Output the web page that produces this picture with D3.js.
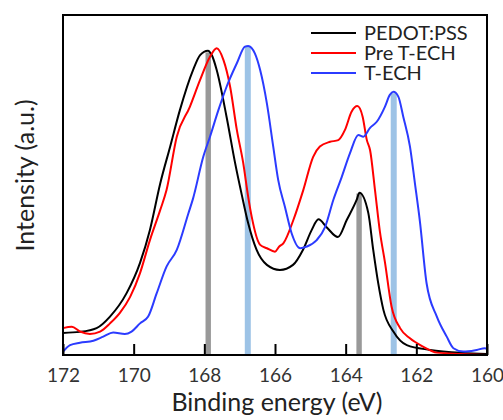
<!DOCTYPE html>
<html>
<head>
<meta charset="utf-8">
<script src="https://cdn.jsdelivr.net/npm/d3@7"></script>
<style>
  body { margin: 0; background: #fff; }
  svg { font-family: Lato, sans-serif; }
</style>
</head>
<body>
<svg id="chart"></svg>
<script>
var width = 503,
    height = 420,
    margin = {top: 15, right: 16, bottom: 65, left: 63};

// binding energy (eV) and intensity (a.u.)
var pedotE = [172.00, 171.52, 171.05, 170.67, 170.20, 169.82, 169.54, 169.25, 168.97, 168.69, 168.32, 168.12, 167.90, 167.78, 167.65, 167.37, 167.13, 166.94, 166.76, 166.52, 166.23, 165.86, 165.49, 165.21, 164.96, 164.77, 164.54, 164.22, 163.97, 163.69, 163.61, 163.36, 163.22, 163.08, 162.93, 162.65, 162.27, 161.61, 160.68, 160.00];
var pedotI = [6.5, 6.8, 7.9, 11.3, 18.2, 27.1, 36.8, 50.4, 61.2, 72.1, 83.8, 88.2, 89.5, 88.0, 83.8, 70.0, 56.5, 47.1, 38.8, 30.9, 26.5, 25.0, 26.5, 30.9, 36.8, 39.9, 37.6, 34.7, 39.7, 45.6, 47.7, 41.8, 30.9, 21.2, 13.2, 6.9, 2.9, 1.5, 0.6, 0.3];

var preE = [172.00, 171.75, 171.52, 171.24, 170.95, 170.67, 170.39, 170.10, 169.82, 169.54, 169.25, 169.07, 168.78, 168.41, 168.12, 167.84, 167.65, 167.46, 167.27, 167.08, 166.90, 166.76, 166.66, 166.42, 166.23, 166.00, 165.88, 165.76, 165.48, 165.20, 164.92, 164.73, 164.44, 164.21, 164.02, 163.83, 163.67, 163.52, 163.40, 163.31, 163.17, 163.03, 162.89, 162.70, 162.46, 162.18, 161.80, 161.42, 160.76, 160.00];
var preI = [7.9, 8.3, 6.9, 6.2, 6.9, 9.3, 12.4, 17.1, 24.1, 33.8, 42.6, 48.5, 64.2, 73.0, 80.9, 87.7, 90.2, 86.8, 78.9, 66.2, 56.5, 46.6, 40.7, 32.4, 31.4, 30.4, 31.9, 32.9, 39.7, 48.5, 58.3, 61.3, 62.7, 63.2, 66.2, 71.6, 73.2, 70.1, 63.2, 60.3, 48.5, 36.2, 27.4, 14.2, 7.9, 4.9, 2.4, 0.7, 0.3, 0.0];

var techE = [172.00, 171.80, 171.52, 171.14, 170.86, 170.58, 170.25, 170.06, 169.82, 169.59, 169.35, 169.07, 168.78, 168.45, 168.32, 168.03, 167.84, 167.60, 167.37, 167.08, 166.85, 166.76, 166.57, 166.42, 166.23, 166.05, 165.91, 165.72, 165.53, 165.29, 165.10, 164.82, 164.58, 164.35, 164.11, 163.88, 163.64, 163.50, 163.31, 163.12, 162.89, 162.75, 162.65, 162.51, 162.37, 162.18, 162.04, 161.90, 161.71, 161.42, 161.14, 160.95, 160.67, 160.29, 160.06, 160.00];
var techI = [1.0, 2.9, 3.6, 4.2, 5.4, 6.6, 6.2, 6.9, 9.3, 11.3, 18.1, 26.0, 30.9, 41.7, 46.0, 58.3, 64.2, 72.1, 78.9, 85.8, 90.7, 90.9, 88.7, 83.8, 74.0, 61.3, 51.5, 43.6, 35.8, 31.4, 31.9, 33.8, 37.7, 45.6, 52.4, 59.3, 64.7, 64.2, 66.8, 68.6, 73.0, 76.5, 77.4, 76.0, 70.1, 61.3, 50.5, 39.4, 21.1, 11.3, 5.4, 2.0, 1.0, 1.5, 2.0, 1.8];

// marker bars at the peak positions
var barE = [167.89, 166.77, 163.62, 162.64];
var barTop = [89.0, 90.7, 47.5, 77.0];
var barKind = ["gray", "blue", "gray", "blue"];

var seriesNames = ["PEDOT:PSS", "Pre T-ECH", "T-ECH"];
var seriesColors = ["#000000", "#ff0000", "#2b3bff"];
var xTicks = [172, 170, 168, 166, 164, 162, 160];

var series = [
  {name: seriesNames[0], color: seriesColors[0], E: pedotE, I: pedotI},
  {name: seriesNames[1], color: seriesColors[1], E: preE, I: preI},
  {name: seriesNames[2], color: seriesColors[2], E: techE, I: techI}
];

var svg = d3.select("#chart").attr("width", width).attr("height", height);

var x = d3.scaleLinear().domain([172, 160]).range([margin.left, width - margin.right]);
var y = d3.scaleLinear().domain([0, 100]).range([height - margin.bottom, margin.top]);

// bars
svg.append("g").selectAll("rect")
  .data(barE)
  .enter().append("rect")
  .attr("x", function(d, i) { return x(d) - (barKind[i] == "gray" ? 2.7 : 3); })
  .attr("width", function(d, i) { return barKind[i] == "gray" ? 5.4 : 6; })
  .attr("y", function(d, i) { return y(barTop[i]); })
  .attr("height", function(d, i) { return y(0) - y(barTop[i]); })
  .attr("fill", function(d, i) { return barKind[i] == "gray" ? "#999999" : "#9dc3e6"; });

var line = d3.line()
  .x(function(d) { return x(d[0]); })
  .y(function(d) { return y(d[1]); })
  .curve(d3.curveMonotoneX);

svg.append("g").selectAll("path")
  .data(series)
  .enter().append("path")
  .attr("fill", "none")
  .attr("stroke", function(d) { return d.color; })
  .attr("stroke-width", 2)
  .attr("stroke-linejoin", "round")
  .attr("d", function(d) { return line(d.E.map(function(e, i) { return [e, d.I[i]]; })); });

// x axis, ticks pointing inward
var xAxis = svg.append("g")
  .attr("transform", "translate(0," + (height - margin.bottom) + ")")
  .call(d3.axisBottom(x).tickValues(xTicks).tickSize(-11).tickPadding(14).tickFormat(d3.format("d")));
xAxis.select(".domain").remove();
xAxis.selectAll("line").attr("stroke", "#000").attr("stroke-width", 2);
xAxis.selectAll("text").attr("font-size", 19).attr("fill", "#333").attr("font-family", "Lato, sans-serif");

// frame
svg.append("rect")
  .attr("x", margin.left)
  .attr("y", margin.top)
  .attr("width", width - margin.left - margin.right)
  .attr("height", height - margin.top - margin.bottom)
  .attr("fill", "none")
  .attr("stroke", "#000")
  .attr("stroke-width", 2);

svg.append("text")
  .attr("x", 277)
  .attr("y", 411)
  .attr("text-anchor", "middle")
  .attr("font-size", 25)
  .attr("fill", "#222")
  .text("Binding energy (eV)");

svg.append("text")
  .attr("transform", "translate(34,175.5) rotate(-90)")
  .attr("text-anchor", "middle")
  .attr("font-size", 25)
  .attr("fill", "#222")
  .text("Intensity (a.u.)");

// legend
var legend = svg.append("g").selectAll("g")
  .data(series)
  .enter().append("g")
  .attr("transform", function(d, i) { return "translate(311," + (33 + i * 20) + ")"; });
legend.append("line")
  .attr("x1", 0).attr("x2", 45)
  .attr("stroke", function(d) { return d.color; })
  .attr("stroke-width", 2);
legend.append("text")
  .attr("x", 53)
  .attr("dy", "0.35em")
  .attr("font-size", 20)
  .attr("fill", "#222")
  .text(function(d) { return d.name; });
</script>
</body>
</html>
